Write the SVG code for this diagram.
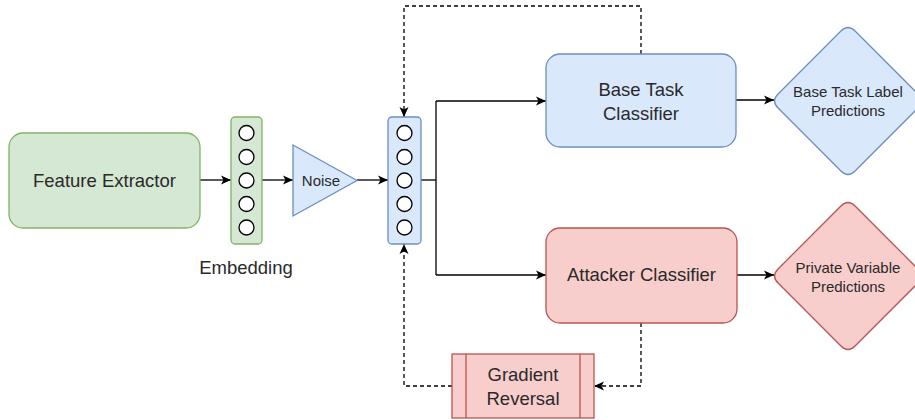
<svg xmlns="http://www.w3.org/2000/svg" width="915" height="420" viewBox="0 0 915 420">
<style>
text{font-family:"Liberation Sans",Arial,sans-serif;fill:#2a2a2a;text-anchor:middle}
.big{font-size:18.5px}
.sm{font-size:15px}
.green{fill:#d5e8d4;stroke:#82b366;stroke-width:1.3}
.blue{fill:#dae8fc;stroke:#6c8ebf;stroke-width:1.3}
.red{fill:#f8cecc;stroke:#b85450;stroke-width:1.3}
.neuron{fill:#fff;stroke:#000;stroke-width:1.3}
.edge{fill:none;stroke:#000;stroke-width:1.3}
.dash{stroke-dasharray:4 3}
</style>
<defs>
<marker id="arr" markerUnits="userSpaceOnUse" markerWidth="12" markerHeight="10" refX="10" refY="5" orient="auto">
<path d="M0,0.5 L10,5 L0,9.5 L2.5,5 Z" fill="#000"/>
</marker>
</defs>
<g id="connectors">
<path class="edge" d="M200,180 H231" marker-end="url(#arr)"/>
<path class="edge" d="M262,180 H293" marker-end="url(#arr)"/>
<path class="edge" d="M357,180 H388" marker-end="url(#arr)"/>
<path class="edge" d="M421,180 H436"/>
<path class="edge" d="M436,101 V275"/>
<path class="edge" d="M436,101 H546" marker-end="url(#arr)"/>
<path class="edge" d="M436,275 H546" marker-end="url(#arr)"/>
<path class="edge" d="M736,100 H774" marker-end="url(#arr)"/>
<path class="edge" d="M737,275 H774" marker-end="url(#arr)"/>
<path class="edge dash" d="M641,54 V6 H404 V117" marker-end="url(#arr)"/>
<path class="edge dash" d="M641,323 V386 H594" marker-end="url(#arr)"/>
<path class="edge dash" d="M452,386 H404 V244" marker-end="url(#arr)"/>
</g>
<g id="feature-extractor">
<rect class="green" x="9" y="133" width="191" height="95" rx="14"/>
<text class="big" x="104.5" y="187">Feature Extractor</text>
</g>
<g id="embedding">
<rect class="green" x="231" y="117" width="31" height="127" rx="4"/>
<circle class="neuron" cx="246.5" cy="133" r="7.5"/>
<circle class="neuron" cx="246.5" cy="157" r="7.5"/>
<circle class="neuron" cx="246.5" cy="180.5" r="7.5"/>
<circle class="neuron" cx="246.5" cy="204" r="7.5"/>
<circle class="neuron" cx="246.5" cy="227.5" r="7.5"/>
<text class="big" x="246" y="274">Embedding</text>
</g>
<g id="noise">
<path class="blue" d="M293,145 L357,180.5 L293,216 Z"/>
<text class="sm" x="321" y="186">Noise</text>
</g>
<g id="private-embedding">
<rect class="blue" x="388" y="117" width="33" height="127" rx="4"/>
<circle class="neuron" cx="404.5" cy="133" r="7.5"/>
<circle class="neuron" cx="404.5" cy="157" r="7.5"/>
<circle class="neuron" cx="404.5" cy="180.5" r="7.5"/>
<circle class="neuron" cx="404.5" cy="204" r="7.5"/>
<circle class="neuron" cx="404.5" cy="227.5" r="7.5"/>
</g>
<g id="base-task-classifier">
<rect class="blue" x="546" y="54" width="190" height="93" rx="14"/>
<text class="big" x="641" y="96">Base Task</text>
<text class="big" x="641" y="120">Classifier</text>
</g>
<g id="attacker-classifier">
<rect class="red" x="546" y="228" width="191" height="95" rx="14"/>
<text class="big" x="641.5" y="281">Attacker Classifier</text>
</g>
<g id="base-task-predictions">
<path class="blue" d="M855.07,31.07 L917.93,93.93 Q925,101 917.93,108.07 L855.07,170.93 Q848,178 840.93,170.93 L778.07,108.07 Q771,101 778.07,93.93 L840.93,31.07 Q848,24 855.07,31.07 Z"/>
<text class="sm" x="848" y="97">Base Task Label</text>
<text class="sm" x="848" y="116">Predictions</text>
</g>
<g id="private-variable-predictions">
<path class="red" d="M855.07,206.07 L917.93,268.93 Q925,276 917.93,283.07 L855.07,345.93 Q848,353 840.93,345.93 L778.07,283.07 Q771,276 778.07,268.93 L840.93,206.07 Q848,199 855.07,206.07 Z"/>
<text class="sm" x="848" y="273">Private Variable</text>
<text class="sm" x="848" y="292">Predictions</text>
</g>
<g id="gradient-reversal">
<rect class="red" x="452" y="354" width="142" height="64"/>
<line class="red" x1="466" y1="354" x2="466" y2="418"/>
<line class="red" x1="580" y1="354" x2="580" y2="418"/>
<text class="big" x="523" y="381">Gradient</text>
<text class="big" x="523" y="405">Reversal</text>
</g>
</svg>
